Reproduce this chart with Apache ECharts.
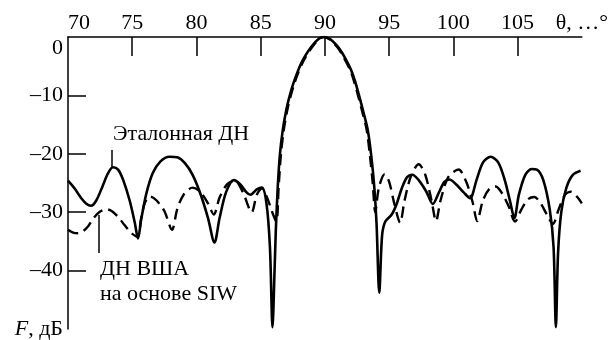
<!DOCTYPE html>
<html>
<head>
<meta charset="utf-8">
<script src="https://cdn.jsdelivr.net/npm/echarts@6/dist/echarts.min.js"></script>
<style>
  html, body { margin: 0; padding: 0; background: #fff; }
  #main { width: 611px; height: 340px; }
</style>
</head>
<body>
<div id="main"></div>
<script>
// эталонная ДН (сплошная)
var thetaRef = [70.0, 70.5, 71.0, 71.4, 71.8, 72.2, 72.7, 73.1, 73.5, 73.9, 74.3, 74.8, 75.2, 75.45, 75.7,
  76.1, 76.6, 77.2, 77.9, 78.5, 79.1, 79.7, 80.3, 80.9, 81.4, 81.8, 82.3, 82.9, 83.4, 83.9, 84.2, 84.7,
  85.1, 85.45, 85.72, 85.92, 86.08, 86.18, 86.33, 86.5, 86.72, 87.0, 87.24, 87.55, 87.9, 88.2, 88.5,
  88.9, 89.3, 89.6, 89.9, 90.2, 90.5, 90.9, 91.13, 91.5, 92.03, 92.35, 92.68, 93.0, 93.33, 93.6, 93.84,
  94.02, 94.23, 94.45, 94.7, 95.2, 95.6, 96.0, 96.4, 96.8, 97.3, 97.9, 98.4, 98.9, 99.3, 99.7, 100.2,
  100.8, 101.3, 101.8, 102.3, 102.9, 103.5, 104.0, 104.4, 104.75, 105.1, 105.6, 106.1, 106.5, 107.0,
  107.5, 107.8, 107.98, 108.15, 108.4, 108.8, 109.3, 109.9];
var fRef = [-24.6, -25.9, -27.5, -28.5, -28.9, -28.0, -25.5, -23.4, -22.3, -22.7, -24.5, -28.0, -31.8, -34.5, -31.2,
  -26.8, -23.3, -21.3, -20.5, -20.6, -21.6, -23.6, -26.8, -31.0, -35.2, -31.0, -26.6, -24.5, -25.2, -26.6, -27.0, -26.1,
  -25.8, -28.5, -36.0, -49.7, -40.0, -33.0, -25.6, -20.0, -15.9, -12.4, -10.2, -7.9, -5.8, -4.3, -3.1,
  -1.8, -0.75, -0.2, 0, -0.15, -0.5, -1.4, -2.0, -3.3, -5.6, -7.6, -10.2, -12.9, -15.9, -20.2, -25.6,
  -32.0, -43.8, -34.0, -31.6, -30.4, -28.5, -25.8, -24.0, -23.6, -24.5, -26.5, -28.6, -26.5, -24.8, -24.4, -25.2,
  -26.6, -27.6, -24.5, -21.5, -20.5, -21.5, -24.5, -28.0, -31.0, -27.0, -23.6, -22.6, -22.7, -24.5,
  -29.5, -36.0, -49.7, -37.0, -30.0, -25.8, -23.6, -22.9];

// ДН ВША на основе SIW (штриховая)
var thetaSiw = [70.0, 70.4, 70.8, 71.2, 71.6, 72.0, 72.5, 73.0, 73.4, 73.9, 74.4, 74.9, 75.4, 75.7, 76.0,
  76.4, 76.9, 77.5, 78.1, 78.5, 79.0, 79.7, 80.3, 80.9, 81.35, 81.8, 82.4, 83.0, 83.6, 84.3, 84.7, 85.1,
  85.5, 85.9, 86.22, 86.4, 86.58, 86.8, 87.08, 87.32, 87.63, 87.98, 88.28, 88.58, 88.98, 89.36, 89.64,
  89.9, 90.16, 90.44, 90.83, 91.05, 91.42, 91.95, 92.27, 92.6, 92.92, 93.25, 93.5, 93.72, 93.92, 94.2,
  94.65, 95.0, 95.4, 95.85, 96.2, 96.7, 97.3, 97.8, 98.3, 98.65, 99.0, 99.6, 100.4, 101.0, 101.5, 101.85,
  102.3, 102.8, 103.3, 103.8, 104.3, 104.8, 105.3, 105.8, 106.3, 106.8, 107.3, 107.75, 108.2, 108.7,
  109.15, 109.6, 110.0];
var fSiw = [-33.0, -33.5, -33.6, -33.2, -32.3, -31.0, -29.9, -29.5, -29.8, -30.8, -32.2, -33.5, -34.2, -31.0, -28.3,
  -27.3, -28.0, -29.8, -33.0, -29.5, -27.0, -25.8, -26.5, -28.5, -30.4, -27.5, -25.2, -24.6, -26.5, -30.0, -27.0, -25.9,
  -27.5, -30.0, -31.6, -25.6, -20.0, -15.9, -12.4, -10.2, -7.9, -5.8, -4.3, -3.1, -1.8, -0.75, -0.2,
  0, -0.15, -0.5, -1.4, -2.0, -3.3, -5.6, -7.6, -10.2, -12.9, -15.9, -20.2, -25.0, -30.0, -25.8,
  -23.5, -24.8, -28.5, -31.8, -28.0, -23.8, -21.8, -23.5, -28.0, -31.5, -28.0, -24.0, -22.7, -24.8, -28.3, -31.5,
  -28.0, -26.0, -25.6, -26.8, -29.0, -31.6, -29.5, -27.8, -27.4, -28.5, -30.5, -32.0, -29.5, -27.0,
  -26.5, -27.3, -28.5];

var xTicks = [75, 80, 85, 90, 95, 100, 105];
var xLabels = [70, 75, 80, 85, 90, 95, 100, 105, 110];
var yTicks = [-40, -30, -20, -10];
var yLabels = [-50, -40, -30, -20, -10, 0];

function pairs(xs, ys) {
  var out = [];
  for (var i = 0; i < xs.length; i++) {
    out.push([xs[i], ys[i]]);
  }
  return out;
}

var serif = "'Liberation Serif', 'Times New Roman', serif";
var chart = echarts.init(document.getElementById('main'), null, { renderer: 'canvas' });

var option = {
  animation: false,
  backgroundColor: '#fff',
  textStyle: { fontFamily: serif },
  grid: { left: 68, right: 28, top: 37, bottom: 10 },
  xAxis: {
    type: 'value',
    position: 'top',
    min: 70,
    max: 110,
    interval: 5,
    splitLine: { show: false },
    axisLine: { lineStyle: { color: '#000', width: 1.5 } },
    axisTick: { inside: true, length: 19, customValues: xTicks, lineStyle: { color: '#000', width: 1.5 } },
    axisLabel: {
      customValues: xLabels,
      margin: 3,
      color: '#000',
      fontFamily: serif,
      fontSize: 22,
      alignMinLabel: 'left',
      formatter: function (v) {
        return v === 110 ? 'θ, …°' : String(v);
      }
    }
  },
  yAxis: {
    type: 'value',
    min: -50,
    max: 0,
    interval: 10,
    splitLine: { show: false },
    axisLine: { lineStyle: { color: '#000', width: 1.5 } },
    axisTick: { inside: true, length: 18, customValues: yTicks, lineStyle: { color: '#000', width: 1.5 } },
    axisLabel: {
      customValues: yLabels,
      margin: 5,
      color: '#000',
      fontFamily: serif,
      fontSize: 22,
      verticalAlignMaxLabel: 'top',
      formatter: function (v) {
        if (v === -50) return '{i|F}, дБ';
        return v < 0 ? '–' + (-v) : String(v);
      },
      rich: {
        i: { fontStyle: 'italic', fontFamily: serif, fontSize: 22, color: '#000' }
      }
    }
  },
  series: [
    {
      name: 'Эталонная ДН',
      type: 'line',
      data: pairs(thetaRef, fRef),
      smooth: 0.3,
      symbol: 'none',
      lineStyle: { color: '#000', width: 2.6 }
    },
    {
      name: 'ДН ВША на основе SIW',
      type: 'line',
      data: pairs(thetaSiw, fSiw),
      smooth: 0.3,
      symbol: 'none',
      lineStyle: { color: '#000', width: 2.4, type: [11, 6] }
    }
  ],
  graphic: [
    { type: 'text', left: 113, top: 123, style: { text: 'Эталонная ДН', fontFamily: serif, fontSize: 22, fill: '#000' } },
    { type: 'line', shape: { x1: 112, y1: 150, x2: 112, y2: 167 }, style: { stroke: '#000', lineWidth: 1.5 } },
    { type: 'line', shape: { x1: 99, y1: 215, x2: 99, y2: 253 }, style: { stroke: '#000', lineWidth: 1.5 } },
    { type: 'text', left: 100, top: 258, style: { text: 'ДН ВША', fontFamily: serif, fontSize: 22, fill: '#000' } },
    { type: 'text', left: 100, top: 283, style: { text: 'на основе SIW', fontFamily: serif, fontSize: 22, fill: '#000' } }
  ]
};

chart.setOption(option);
</script>
</body>
</html>
